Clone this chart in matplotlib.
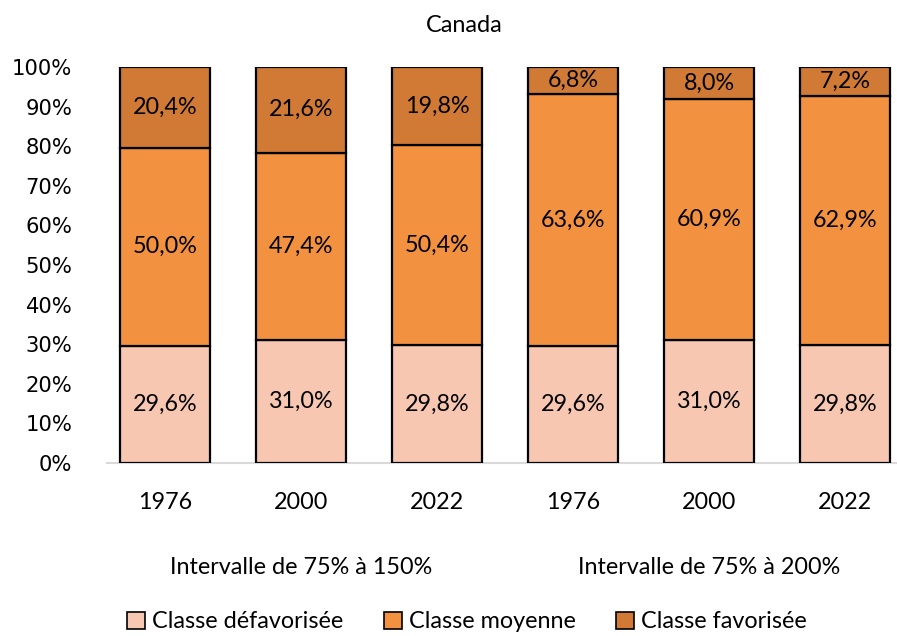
import matplotlib
matplotlib.use("Agg")
import matplotlib.pyplot as plt
from matplotlib.patches import Patch
from matplotlib.transforms import blended_transform_factory
import numpy as np

years = ["1976", "2000", "2022", "1976", "2000", "2022"]
groups = ["Intervalle de 75% à 150%", "Intervalle de 75% à 200%"]
series_names = ["Classe défavorisée", "Classe moyenne", "Classe favorisée"]
defav = [29.6, 31.0, 29.8, 29.6, 31.0, 29.8]
moyenne = [50.0, 47.4, 50.4, 63.6, 60.9, 62.9]
favor = [20.4, 21.6, 19.8, 6.8, 8.0, 7.2]
colors = ["#F7C7B2", "#F2913F", "#D07A36"]

FONT = ["Lato", "DejaVu Sans"]
FS = 16.8

fig = plt.figure(figsize=(8.97, 6.36), dpi=100)
ax = fig.add_axes([107/897, 173/636, 790/897, 396/636])

x = np.arange(len(years))
w = 0.662
bottom = np.zeros(len(years))
for vals, col in zip([defav, moyenne, favor], colors):
    vals = np.array(vals)
    ax.bar(x, vals, w, bottom=bottom, color=col, edgecolor="black", linewidth=1.6, zorder=3)
    for xi, b, v in zip(x, bottom, vals):
        ax.text(xi, b + v / 2, f"{v:.1f}%".replace(".", ","), ha="center", va="center",
                fontsize=FS, family=FONT, color="black", zorder=4)
    bottom = bottom + vals

ax.set_xlim(-0.427, 5.382)
ax.set_ylim(0, 100)
ax.set_yticks(np.arange(0, 101, 10))
ax.set_yticklabels([f"{v}%" for v in range(0, 101, 10)], fontsize=15.2, family="DejaVu Sans")
ax.tick_params(axis="y", length=0, pad=25)
ax.set_xticks(x)
ax.set_xticklabels(years, fontsize=FS, family=FONT)
ax.tick_params(axis="x", length=0, pad=21)
for s in ["top", "right", "left"]:
    ax.spines[s].set_visible(False)
ax.spines["bottom"].set_color("#D9D9D9")
ax.spines["bottom"].set_linewidth(1.5)
ax.spines["bottom"].set_zorder(2)

tr = blended_transform_factory(ax.transData, fig.transFigure)
ax.text(1, 1 - 568/636, groups[0], ha="center", va="center", fontsize=FS, family=FONT, transform=tr)
ax.text(4, 1 - 568/636, groups[1], ha="center", va="center", fontsize=FS, family=FONT, transform=tr)

fig.text(464/897, 1 - 25/636, "Canada", ha="center", va="center", fontsize=FS, family=FONT)

handles = [Patch(facecolor=c, edgecolor="black", linewidth=1.2) for c in colors]
fig.legend(handles, series_names, loc="center", bbox_to_anchor=(467/897, 1 - 622/636), ncol=3,
           frameon=False, prop={"family": FONT, "size": FS}, handlelength=0.75, handleheight=0.75,
           handletextpad=0.3, columnspacing=1.75, borderaxespad=0)

fig.savefig("out.png", dpi=100)
